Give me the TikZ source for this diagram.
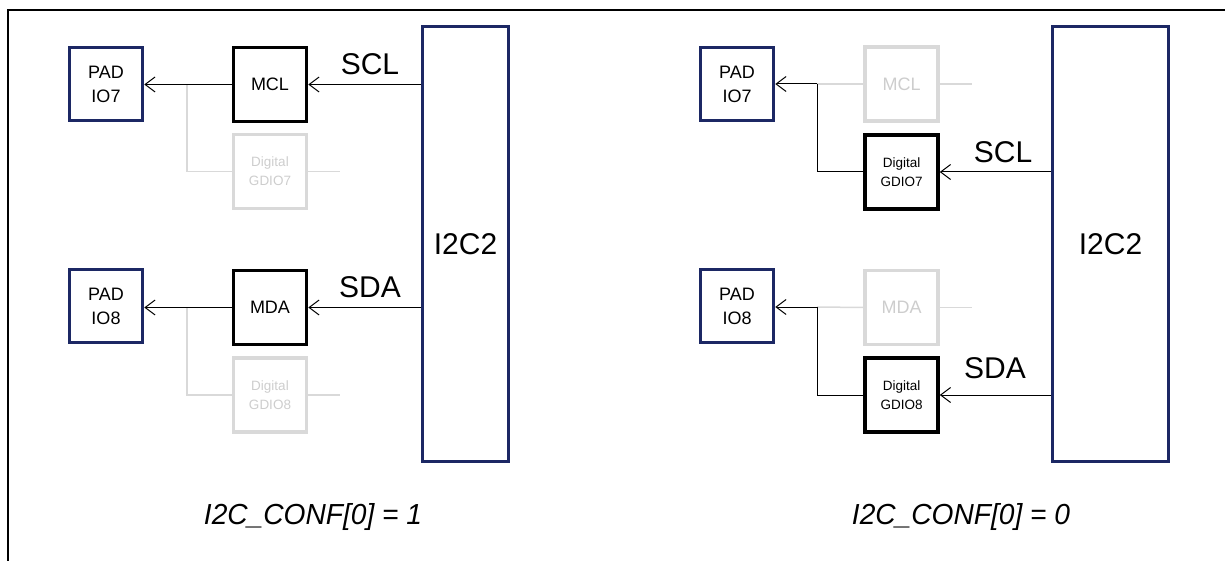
\documentclass[tikz,border=0pt]{standalone}
\usepackage{fontspec}
\setmainfont{Liberation Sans}
\usetikzlibrary{arrows.meta}
\definecolor{navy}{RGB}{28,40,100}
\definecolor{lgray}{RGB}{217,217,217}
\definecolor{tgray}{RGB}{205,205,205}
\tikzset{
  padbox/.style={draw=navy, line width=3.5pt, minimum width=73pt, minimum height=73pt, align=center, font=\fontsize{18}{24}\selectfont, inner sep=0pt},
  blkbox/.style={draw=black, line width=3.5pt, minimum width=73pt, minimum height=74pt, align=center, inner sep=0pt},
  grybox/.style={draw=lgray, text=tgray, line width=3.5pt, minimum width=73pt, minimum height=74pt, align=center, inner sep=0pt},
  bigfont/.style={font=\fontsize{18}{22}\selectfont},
  smallfont/.style={font=\fontsize{13.5}{19}\selectfont},
  i2cbox/.style={draw=navy, line width=3.5pt, font=\fontsize{30}{36}\selectfont, inner sep=0pt},
  sig/.style={font=\fontsize{30}{36}\selectfont, inner sep=0pt},
  captext/.style={font=\fontsize{29}{34}\selectfont\itshape, inner sep=0pt},
  arr/.style={draw=black, line width=1pt, -{Straight Barb[length=10pt,width=15pt]}},
  blkline/.style={draw=black, line width=1pt},
  gline/.style={draw=lgray, line width=1.5pt},
}
\begin{document}
\begin{tikzpicture}[x=1pt,y=-1pt]
\useasboundingbox (0,0) rectangle (1225,561);
\draw[line width=1.5pt] (8,561) -- (8,10) -- (1225,10);

% ---------- left half ----------
\node[i2cbox, minimum width=86pt, minimum height=435pt] (i2cL) at (465.5,244) {I2C2};
\node[padbox] (padA) at (106,84) {PAD\\IO7};
\node[padbox] (padB) at (106,306) {PAD\\IO8};
\node[blkbox, bigfont] (mcl) at (270,84.5) {MCL};
\node[blkbox, bigfont] (mda) at (270,307.5) {MDA};
\node[grybox, smallfont] (gd7L) at (270,171.5) {Digital\\GDIO7};
\node[grybox, smallfont] (gd8L) at (270,395) {Digital\\GDIO8};
\node[sig] (sclL) at (370,64) {SCL};
\node[sig] (sdaL) at (370,287) {SDA};
\coordinate (jA) at (187,84.5);
\coordinate (jB) at (187,307.5);
\draw[gline] (jA) |- (gd7L.west);
\draw[gline] (jB) |- (gd8L.west);
\draw[gline] (gd7L.east) -- ++(32,0) coordinate (sA);
\draw[gline] (gd8L.east) -- ++(32,0) coordinate (sB);
\draw[arr] (i2cL.west |- mcl) -- (mcl.east);
\draw[arr] (mcl.west) -- (mcl.west -| padA.east);
\draw[arr] (i2cL.west |- mda) -- (mda.east);
\draw[arr] (mda.west) -- (mda.west -| padB.east);

% ---------- right half ----------
\node[i2cbox, minimum width=116pt, minimum height=435pt] (i2cR) at (1110.5,244) {I2C2};
\node[padbox] (padC) at (737,84) {PAD\\IO7};
\node[padbox] (padD) at (737,306) {PAD\\IO8};
\node[grybox, bigfont] (mclR) at (901.5,84) {MCL};
\node[grybox, bigfont] (mdaR) at (901.5,307.5) {MDA};
\node[blkbox, smallfont] (gd7R) at (901.5,172) {Digital\\GDIO7};
\node[blkbox, smallfont] (gd8R) at (901.5,395) {Digital\\GDIO8};
\node[sig] (sclR) at (1003,152) {SCL};
\node[sig] (sdaR) at (995,368) {SDA};
\coordinate (jC) at (817,84);
\coordinate (jD) at (817,307);
\draw[gline] (mclR.west) -- (jC);
\draw[gline] (mdaR.west) -- (jD);
\draw[gline] (mclR.east) -- ++(32,0) coordinate (sC);
\draw[gline] (mdaR.east) -- ++(32,0) coordinate (sD);
\draw[blkline] (gd7R.west) -| (jC);
\draw[blkline] (gd8R.west) -| (jD);
\draw[arr] (jC) -- (jC -| padC.east);
\draw[arr] (jD) -- (jD -| padD.east);
\draw[arr] (i2cR.west |- gd7R) -- (gd7R.east);
\draw[arr] (i2cR.west |- gd8R) -- (gd8R.east);

% ---------- captions ----------
\node[captext, xscale=0.97] (capL) at (313,517) {I2C\_CONF[0] = 1};
\node[captext, xscale=0.97] (capR) at (961,517) {I2C\_CONF[0] = 0};
\end{tikzpicture}
\end{document}
